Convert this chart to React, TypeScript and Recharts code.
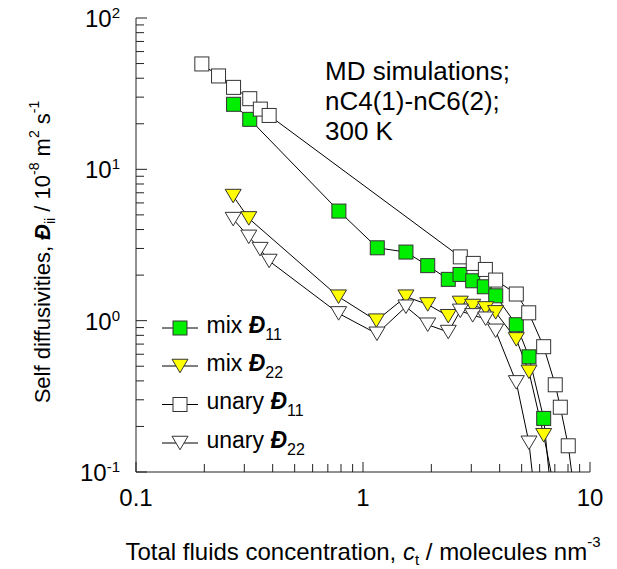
import React from 'react';
import { LineChart, Line, XAxis, YAxis, Legend } from 'recharts';

// concentrations c_t (molecules/nm3) and self diffusivities (1e-8 m2/s)
const mixD11C = [0.269, 0.317, 0.783, 1.156, 1.546, 1.928, 2.375, 2.675, 3.043, 3.423, 3.843, 4.735, 5.386, 6.252, 6.9];
const mixD11D = [26.9, 21.4, 5.3, 3.03, 2.84, 2.31, 1.875, 2.02, 1.835, 1.675, 1.46, 0.94, 0.577, 0.226, 0.05];

const mixD22C = [0.268, 0.314, 0.78, 1.145, 1.546, 1.928, 2.375, 2.683, 3.043, 3.47, 3.84, 4.735, 5.386, 6.25, 7.38];
const mixD22D = [6.66, 4.74, 1.44, 1.0, 1.44, 1.28, 1.07, 1.31, 1.25, 1.205, 1.135, 0.752, 0.459, 0.175, 0.05];

const unaryD11C = [0.195, 0.231, 0.269, 0.317, 0.353, 0.386, 2.683, 3.06, 3.46, 3.84, 4.735, 5.37, 6.25, 7.03, 7.4, 8.02, 8.81];
const unaryD11D = [49.7, 41.4, 34.8, 29.3, 25.0, 22.7, 2.64, 2.39, 2.18, 1.855, 1.5, 1.127, 0.673, 0.377, 0.268, 0.149, 0.05];

const unaryD22C = [0.268, 0.314, 0.352, 0.386, 0.781, 1.152, 1.546, 1.928, 2.375, 2.683, 3.043, 3.47, 3.84, 4.735, 5.386, 5.85];
const unaryD22D = [4.69, 3.58, 2.97, 2.48, 1.117, 0.819, 1.236, 0.94, 0.841, 1.161, 1.084, 1.03, 0.857, 0.391, 0.156, 0.05];

const xMajorTicks = [0.1, 1, 10];
const xTickLabels = ['0.1', '1', '10'];
const xMinorTicks = [0.2, 0.3, 0.4, 0.5, 0.6, 0.7, 0.8, 0.9, 2, 3, 4, 5, 6, 7, 8, 9];

const yMajorTicks = [0.1, 1, 10, 100];
const yTickExponents = ['-1', '0', '1', '2'];
const yMinorTicks = [
  0.2, 0.3, 0.4, 0.5, 0.6, 0.7, 0.8, 0.9,
  2, 3, 4, 5, 6, 7, 8, 9,
  20, 30, 40, 50, 60, 70, 80, 90,
];

const FONT = '"Liberation Sans", Arial, sans-serif';
const GREEN = '#00ee00';
const YELLOW = '#ffff00';
const EDGE = '#333333';

const toPoints = (c: number[], d: number[]) => c.map((x, i) => ({ x, y: d[i] }));

const squareDot = (fill: string) => (props: any) => {
  const { cx, cy, index, payload } = props;
  if (cx == null || cy == null || payload.y < 0.1) return <g key={`sq-${index}`} />;
  return (
    <rect key={`sq-${index}`} x={cx - 7} y={cy - 7} width={14} height={14} fill={fill} stroke={EDGE} strokeWidth={1} />
  );
};

const triangleDot = (fill: string) => (props: any) => {
  const { cx, cy, index, payload } = props;
  if (cx == null || cy == null || payload.y < 0.1) return <g key={`tr-${index}`} />;
  return (
    <polygon
      key={`tr-${index}`}
      points={`${cx - 8},${cy - 6.75} ${cx + 8},${cy - 6.75} ${cx},${cy + 6.75}`}
      fill={fill}
      stroke={EDGE}
      strokeWidth={1}
    />
  );
};

const series = [
  { name: 'mix', sub: '11', data: toPoints(mixD11C, mixD11D), marker: 'square', fill: GREEN },
  { name: 'mix', sub: '22', data: toPoints(mixD22C, mixD22D), marker: 'triangle', fill: YELLOW },
  { name: 'unary', sub: '11', data: toPoints(unaryD11C, unaryD11D), marker: 'square', fill: '#ffffff' },
  { name: 'unary', sub: '22', data: toPoints(unaryD22C, unaryD22D), marker: 'triangle', fill: '#ffffff' },
];

const XTick = (props: any) => {
  const { x, y, payload } = props;
  const idx = xMajorTicks.indexOf(payload.value);
  const major = idx >= 0;
  return (
    <g>
      <line x1={x} x2={x} y1={y} y2={y - (major ? 10 : 8)} stroke="#222" strokeWidth={1} />
      {major && (
        <text x={x} y={y + 34} textAnchor="middle" fontSize={24} fontFamily={FONT} fill="#000">
          {xTickLabels[idx]}
        </text>
      )}
    </g>
  );
};

const YTick = (props: any) => {
  const { x, y, payload } = props;
  const idx = yMajorTicks.indexOf(payload.value);
  const major = idx >= 0;
  return (
    <g>
      <line x1={x} x2={x + (major ? 11 : 8)} y1={y} y2={y} stroke="#222" strokeWidth={1} />
      {major && (
        <text x={x - 16} y={y + 9} textAnchor="end" fontSize={24} fontFamily={FONT} fill="#000">
          <tspan>10</tspan>
          <tspan fontSize={15} dy={-9}>{yTickExponents[idx]}</tspan>
        </text>
      )}
    </g>
  );
};

const legendRows = [23, 61, 99.5, 138];

const renderLegend = () => (
  <svg width={220} height={170} style={{ overflow: 'visible' }}>
    {series.map((s, i) => {
      const cy = legendRows[i];
      const cx = 30;
      return (
        <g key={i}>
          <line x1={12} x2={48} y1={cy} y2={cy} stroke="#000" strokeWidth={1} />
          {s.marker === 'square' ? (
            <rect x={cx - 7} y={cy - 7} width={14} height={14} fill={s.fill} stroke={EDGE} strokeWidth={1} />
          ) : (
            <polygon
              points={`${cx - 8},${cy - 6.75} ${cx + 8},${cy - 6.75} ${cx},${cy + 6.75}`}
              fill={s.fill}
              stroke={EDGE}
              strokeWidth={1}
            />
          )}
          <text x={56.5} y={cy + 4.5} fontSize={23} fontFamily={FONT} fill="#000">
            <tspan>{s.name} </tspan>
            <tspan fontStyle="italic" fontWeight="bold">Đ</tspan>
            <tspan fontSize={16} dy={7}>{s.sub}</tspan>
          </text>
        </g>
      );
    })}
  </svg>
);

const App = () => {
  return (
    <div style={{ position: 'absolute', left: 0, top: 0, width: 617, height: 569, background: '#fff', fontFamily: FONT }}>
      <LineChart width={617} height={569} margin={{ top: 18, right: 27, left: 76, bottom: 57 }}>
        <XAxis
          dataKey="x"
          type="number"
          scale="log"
          domain={[0.1, 10]}
          allowDataOverflow
          ticks={[...xMajorTicks, ...xMinorTicks]}
          interval={0}
          height={40}
          tickSize={0}
          tickMargin={0}
          tickLine={false}
          axisLine={{ stroke: '#222', strokeWidth: 1 }}
          tick={(p: any) => <XTick {...p} />}
        />
        <YAxis
          dataKey="y"
          type="number"
          scale="log"
          domain={[0.1, 100]}
          allowDataOverflow
          ticks={[...yMajorTicks, ...yMinorTicks]}
          interval={0}
          width={60}
          tickSize={0}
          tickMargin={0}
          tickLine={false}
          axisLine={{ stroke: '#222', strokeWidth: 1 }}
          tick={(p: any) => <YTick {...p} />}
        />
        {series.map((s, i) => (
          <Line
            key={i}
            data={s.data}
            dataKey="y"
            type="linear"
            stroke="#000"
            strokeWidth={1}
            dot={s.marker === 'square' ? squareDot(s.fill) : triangleDot(s.fill)}
            activeDot={false}
            isAnimationActive={false}
          />
        ))}
        <Legend
          layout="vertical"
          align="center"
          verticalAlign="middle"
          content={renderLegend}
          wrapperStyle={{ left: 150, top: 305, width: 220, height: 170 }}
        />
        <text x={325} y={80} fontSize={26} fontFamily={FONT} fill="#000">MD simulations;</text>
        <text x={325} y={110} fontSize={26} fontFamily={FONT} fill="#000">nC4(1)-nC6(2);</text>
        <text x={325} y={139.5} fontSize={26} fontFamily={FONT} fill="#000">300 K</text>
        <text x={363} y={560} textAnchor="middle" fontSize={24} fontFamily={FONT} fill="#000">
          <tspan>Total fluids concentration, </tspan>
          <tspan fontStyle="italic">c</tspan>
          <tspan fontSize={15} dy={5}>t</tspan>
          <tspan dy={-5}> / molecules nm</tspan>
          <tspan fontSize={15} dy={-13}>-3</tspan>
        </text>
        <text
          x={50}
          y={252}
          transform="rotate(-90, 50, 252)"
          textAnchor="middle"
          fontSize={22}
          fontFamily={FONT}
          fill="#000"
        >
          <tspan>Self diffusivities, </tspan>
          <tspan fontStyle="italic" fontWeight="bold">Đ</tspan>
          <tspan fontSize={14} dy={5}>ii</tspan>
          <tspan dy={-5}> / 10</tspan>
          <tspan fontSize={14} dy={-11}>-8</tspan>
          <tspan dy={11}> m</tspan>
          <tspan fontSize={14} dy={-11}>2</tspan>
          <tspan dy={11}> s</tspan>
          <tspan fontSize={14} dy={-11}>-1</tspan>
        </text>
      </LineChart>
    </div>
  );
};

export default App;
